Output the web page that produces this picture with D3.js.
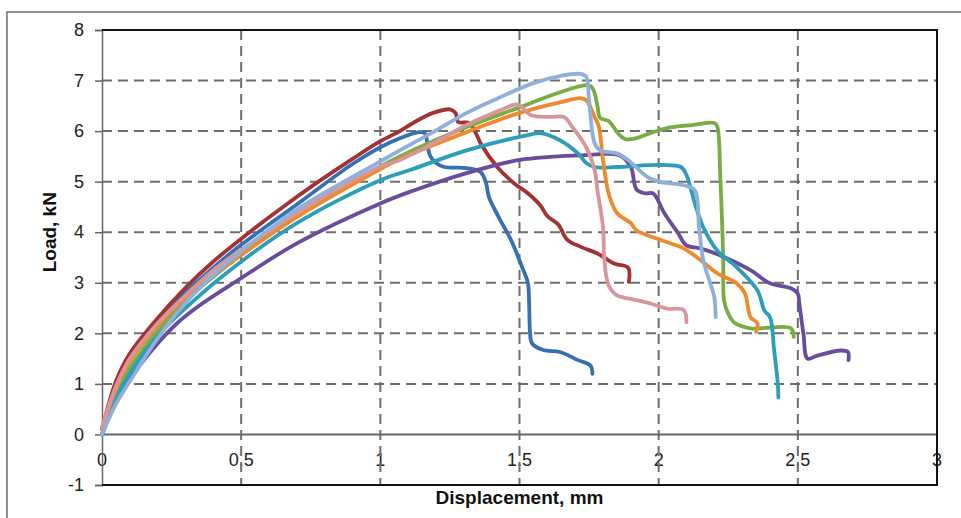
<!DOCTYPE html>
<html>
<head>
<meta charset="utf-8">
<script src="https://cdn.jsdelivr.net/npm/d3@7"></script>
<style>
  html, body { margin: 0; padding: 0; background: #fff; }
  svg { display: block; }
</style>
</head>
<body>
<svg id="chart" width="961" height="518"></svg>
<script>
// Load–displacement curves of eight specimens (displacement in mm, load in kN)
const specimen1 = [[0,0],[0.05,0.85],[0.1,1.45],[0.2,2.2],[0.3,2.8],[0.4,3.3],[0.5,3.75],[0.7,4.55],[0.9,5.35],[1.0,5.68],[1.07,5.86],[1.14,5.98],[1.16,5.96],[1.17,5.7],[1.18,5.5],[1.2,5.37],[1.23,5.29],[1.31,5.27],[1.36,5.19],[1.38,4.97],[1.39,4.7],[1.43,4.25],[1.47,3.84],[1.51,3.3],[1.53,3.0],[1.535,2.5],[1.538,2.0],[1.545,1.8],[1.585,1.67],[1.645,1.63],[1.71,1.47],[1.755,1.36],[1.762,1.2]];
const specimen2 = [[0,0.1],[0.05,1.05],[0.1,1.6],[0.2,2.3],[0.3,2.9],[0.4,3.42],[0.53,4.0],[0.65,4.5],[0.77,4.97],[0.9,5.45],[1.0,5.8],[1.07,6.0],[1.13,6.2],[1.19,6.36],[1.25,6.43],[1.27,6.36],[1.28,6.18],[1.32,6.16],[1.35,5.88],[1.36,5.76],[1.42,5.29],[1.48,4.97],[1.53,4.77],[1.575,4.53],[1.6,4.32],[1.64,4.15],[1.67,3.86],[1.72,3.71],[1.78,3.58],[1.84,3.38],[1.89,3.3],[1.893,3.02]];
const specimen3 = [[0,0],[0.05,0.75],[0.1,1.3],[0.2,2.05],[0.3,2.65],[0.4,3.12],[0.5,3.55],[0.7,4.32],[1.0,5.3],[1.07,5.5],[1.31,6.08],[1.5,6.47],[1.635,6.75],[1.74,6.91],[1.758,6.88],[1.77,6.75],[1.78,6.5],[1.79,6.26],[1.82,6.2],[1.855,5.95],[1.88,5.84],[1.92,5.86],[1.97,5.96],[2.03,6.06],[2.12,6.12],[2.2,6.16],[2.21,6.1],[2.222,5.0],[2.232,3.45],[2.235,2.65],[2.25,2.39],[2.27,2.22],[2.33,2.1],[2.475,2.1],[2.485,1.93]];
const specimen4 = [[0,0],[0.05,0.65],[0.1,1.1],[0.2,1.8],[0.27,2.2],[0.35,2.55],[0.48,3.02],[0.7,3.78],[1.0,4.57],[1.107,4.8],[1.31,5.17],[1.5,5.43],[1.61,5.49],[1.72,5.52],[1.86,5.52],[1.9,5.29],[1.92,4.85],[1.95,4.77],[1.98,4.77],[2.02,4.38],[2.07,3.98],[2.1,3.74],[2.15,3.68],[2.235,3.51],[2.33,3.25],[2.4,2.99],[2.475,2.89],[2.5,2.79],[2.505,2.6],[2.52,2.0],[2.535,1.5],[2.57,1.56],[2.655,1.66],[2.68,1.63],[2.682,1.47]];
const specimen5 = [[0,0],[0.05,0.7],[0.1,1.2],[0.2,1.95],[0.3,2.5],[0.46,3.25],[0.7,4.18],[1.0,5.03],[1.107,5.23],[1.31,5.62],[1.53,5.92],[1.575,5.96],[1.645,5.82],[1.71,5.56],[1.74,5.37],[1.77,5.29],[1.85,5.29],[2.01,5.33],[2.08,5.29],[2.1,5.13],[2.13,4.57],[2.16,4.1],[2.21,3.64],[2.28,3.31],[2.355,2.85],[2.38,2.45],[2.4,2.32],[2.415,1.66],[2.428,1.01],[2.43,0.73]];
const specimen6 = [[0,0.1],[0.05,0.9],[0.1,1.45],[0.2,2.15],[0.3,2.7],[0.4,3.15],[0.5,3.55],[0.7,4.3],[1.0,5.25],[1.07,5.45],[1.31,5.98],[1.5,6.36],[1.645,6.57],[1.72,6.65],[1.74,6.61],[1.77,6.28],[1.785,6.09],[1.8,5.43],[1.82,4.77],[1.85,4.38],[1.9,4.18],[1.92,4.04],[2.01,3.84],[2.09,3.68],[2.15,3.45],[2.21,3.19],[2.28,2.99],[2.31,2.79],[2.33,2.32],[2.355,2.2],[2.35,2.03]];
const specimen7 = [[0,0],[0.05,0.6],[0.1,1.05],[0.2,1.9],[0.3,2.6],[0.4,3.15],[0.5,3.62],[0.7,4.45],[1.0,5.4],[1.07,5.62],[1.19,5.98],[1.31,6.36],[1.43,6.67],[1.55,6.95],[1.645,7.09],[1.72,7.13],[1.74,7.07],[1.75,6.61],[1.77,5.76],[1.79,5.62],[1.85,5.56],[1.89,5.43],[1.96,5.09],[2.01,4.99],[2.09,4.93],[2.13,4.83],[2.145,4.1],[2.16,3.45],[2.19,2.91],[2.2,2.71],[2.205,2.32]];
const specimen8 = [[0,0.15],[0.05,0.95],[0.1,1.5],[0.2,2.2],[0.3,2.75],[0.4,3.25],[0.5,3.65],[0.7,4.38],[1.0,5.3],[1.07,5.43],[1.19,5.76],[1.31,6.12],[1.43,6.41],[1.49,6.53],[1.51,6.47],[1.54,6.32],[1.61,6.28],[1.66,6.28],[1.69,6.08],[1.74,5.68],[1.77,5.23],[1.78,4.83],[1.8,4.1],[1.805,3.45],[1.82,2.95],[1.85,2.75],[1.9,2.68],[1.97,2.59],[2.03,2.49],[2.09,2.46],[2.1,2.22]];

const curves = [specimen1, specimen2, specimen3, specimen4, specimen5, specimen6, specimen8, specimen7];
const curveColors = ["#3570B3", "#A23233", "#78AD43", "#6A4C9C", "#2B9EB9", "#EF892D", "#D8969A", "#90B0DC"];

const xTicks = [0, 0.5, 1, 1.5, 2, 2.5, 3];
const xTickLabels = ["0", "0.5", "1", "1.5", "2", "2.5", "3"];
const yTicks = [-1, 0, 1, 2, 3, 4, 5, 6, 7, 8];

const xTitle = "Displacement, mm";
const yTitle = "Load, kN";

const svg = d3.select("#chart");
const x = d3.scaleLinear().domain([0, 3]).range([102, 937]);
const y = d3.scaleLinear().domain([-1, 8]).range([485, 30]);

// outer frame
svg.append("rect")
  .attr("x", 7).attr("y", 12).attr("width", 1200).attr("height", 1200)
  .attr("fill", "none").attr("stroke", "#555").attr("stroke-width", 1.3);

const font = "'Liberation Sans', Arial, sans-serif";

// x tick labels sit just under the zero line
svg.append("g").selectAll("text").data(xTicks).join("text")
  .attr("x", d => x(d)).attr("y", y(0) + 32)
  .attr("text-anchor", "middle")
  .attr("font-family", font).attr("font-size", 18).attr("fill", "#222")
  .text((d, i) => xTickLabels[i]);

// gridlines
const grid = svg.append("g").attr("stroke", "#6e6e6e").attr("stroke-width", 2).attr("stroke-dasharray", "10,6");
grid.selectAll("line.h").data(yTicks.filter(d => d > -1 && d < 8 && d !== 0)).join("line")
  .attr("x1", x(0)).attr("x2", x(3)).attr("y1", d => y(d)).attr("y2", d => y(d));
grid.selectAll("line.v").data(xTicks.filter(d => d > 0 && d < 3)).join("line")
  .attr("class", "v")
  .attr("y1", y(8)).attr("y2", y(-1)).attr("x1", d => x(d)).attr("x2", d => x(d));

// y axis
const yAxis = d3.axisLeft(y).tickValues(yTicks).tickSize(7).tickPadding(11).tickFormat(d => String(d));
const ya = svg.append("g").attr("transform", `translate(${x(0)},0)`).call(yAxis);
ya.select(".domain").attr("stroke", "#666").attr("stroke-width", 1.5);
ya.selectAll(".tick line").attr("stroke", "#666").attr("stroke-width", 1.5);
ya.selectAll(".tick text").attr("font-family", font).attr("font-size", 18).attr("fill", "#222");

// zero line
svg.append("line").attr("x1", x(0)).attr("x2", x(3)).attr("y1", y(0)).attr("y2", y(0))
  .attr("stroke", "#666").attr("stroke-width", 2);

// plot border (top, right, bottom)
svg.append("path")
  .attr("d", `M${x(0)},${y(8)}H${x(3)}V${y(-1)}H${x(0)}`)
  .attr("fill", "none").attr("stroke", "#111").attr("stroke-width", 2);

// curves
const line = d3.line().x(d => x(d[0])).y(d => y(d[1])).curve(d3.curveCatmullRom.alpha(0.5));
svg.append("g").selectAll("path").data(curves).join("path")
  .attr("d", line)
  .attr("fill", "none")
  .attr("stroke", (d, i) => curveColors[i])
  .attr("stroke-width", 3.8)
  .attr("stroke-linejoin", "round").attr("stroke-linecap", "round");

// axis titles
svg.append("text")
  .attr("x", (x(0) + x(3)) / 2).attr("y", 504)
  .attr("text-anchor", "middle")
  .attr("font-family", font).attr("font-size", 19).attr("font-weight", "bold").attr("fill", "#111")
  .text(xTitle);
svg.append("text")
  .attr("transform", `translate(56,${y(4)}) rotate(-90)`)
  .attr("text-anchor", "middle")
  .attr("font-family", font).attr("font-size", 19).attr("font-weight", "bold").attr("fill", "#111")
  .text(yTitle);
</script>
</body>
</html>
